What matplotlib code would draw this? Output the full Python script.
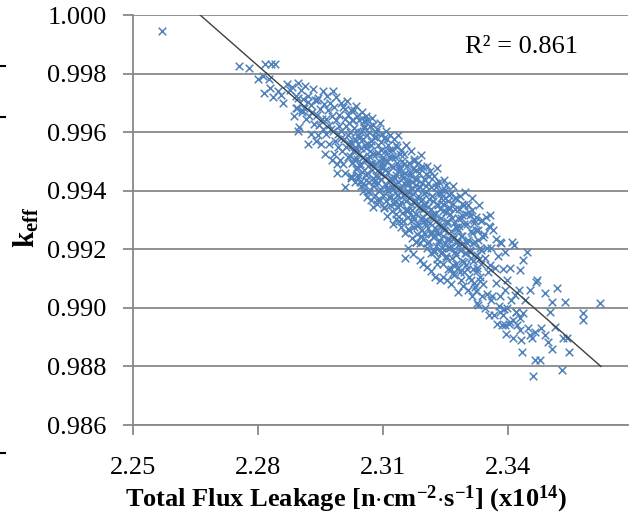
import matplotlib
matplotlib.use('Agg')
import matplotlib.pyplot as plt
from matplotlib.lines import Line2D

plt.rcParams['font.family'] = 'Liberation Serif'
plt.rcParams['mathtext.fontset'] = 'custom'
plt.rcParams['mathtext.rm'] = 'Liberation Serif'
plt.rcParams['mathtext.bf'] = 'Liberation Serif:bold'
plt.rcParams['mathtext.it'] = 'Liberation Serif:italic'

# total flux leakage (x1e14) and k_eff
flux = [
    2.2882, 2.2886, 2.2891, 2.2894, 2.2897, 2.2899,
    2.2902, 2.2905, 2.2908, 2.2911, 2.2913, 2.2916, 2.2919,
    2.2921, 2.2923, 2.2926, 2.2928, 2.2930, 2.2933, 2.2935, 2.2937, 2.2939,
    2.2941, 2.2943, 2.2945, 2.2947, 2.2949, 2.2951, 2.2953, 2.2955, 2.2957, 2.2959,
    2.2960, 2.2962, 2.2964, 2.2966, 2.2968, 2.2970, 2.2971, 2.2973, 2.2975, 2.2977, 2.2978, 2.2979,
    2.2980, 2.2982, 2.2983, 2.2985, 2.2986, 2.2988, 2.2989, 2.2991, 2.2992, 2.2994, 2.2995, 2.2997, 2.2998, 2.2999,
    2.3000, 2.3002, 2.3003, 2.3005, 2.3006, 2.3008, 2.3009, 2.3010, 2.3012, 2.3013, 2.3015, 2.3016, 2.3017, 2.3018, 2.3019,
    2.3020, 2.3021, 2.3022, 2.3024, 2.3025, 2.3026, 2.3028, 2.3029, 2.3030, 2.3032, 2.3033, 2.3034, 2.3035, 2.3036, 2.3037, 2.3038, 2.3039,
    2.3040, 2.3041, 2.3042, 2.3043, 2.3045, 2.3046, 2.3047, 2.3048, 2.3049, 2.3050, 2.3051, 2.3052, 2.3053, 2.3055, 2.3056, 2.3057, 2.3058, 2.3059,
    2.3060, 2.3061, 2.3062, 2.3063, 2.3064, 2.3065, 2.3066, 2.3067, 2.3068, 2.3069, 2.3070, 2.3071, 2.3072, 2.3073, 2.3074, 2.3075, 2.3076, 2.3077, 2.3079,
    2.3080, 2.3081, 2.3082, 2.3083, 2.3084, 2.3085, 2.3086, 2.3087, 2.3088, 2.3089, 2.3090, 2.3091, 2.3092, 2.3093, 2.3094, 2.3095, 2.3096, 2.3097, 2.3098, 2.3099,
    2.3100, 2.3101, 2.3102, 2.3103, 2.3104, 2.3105, 2.3106, 2.3107, 2.3108, 2.3109, 2.3110, 2.3111, 2.3112, 2.3113, 2.3114, 2.3115, 2.3116, 2.3117, 2.3118, 2.3119,
    2.3120, 2.3121, 2.3122, 2.3123, 2.3124, 2.3125, 2.3126, 2.3127, 2.3128, 2.3129, 2.3130, 2.3131, 2.3132, 2.3133, 2.3134, 2.3135, 2.3136, 2.3137, 2.3138, 2.3139, 2.3139,
    2.3140, 2.3141, 2.3142, 2.3143, 2.3144, 2.3145, 2.3146, 2.3147, 2.3148, 2.3149, 2.3150, 2.3151, 2.3152, 2.3153, 2.3154, 2.3155, 2.3156, 2.3157, 2.3158, 2.3159, 2.3159,
    2.3160, 2.3161, 2.3162, 2.3163, 2.3164, 2.3165, 2.3166, 2.3167, 2.3168, 2.3169, 2.3170, 2.3171, 2.3172, 2.3173, 2.3174, 2.3175, 2.3176, 2.3177, 2.3178, 2.3179, 2.3179,
    2.3180, 2.3181, 2.3182, 2.3183, 2.3184, 2.3185, 2.3186, 2.3187, 2.3188, 2.3189, 2.3190, 2.3191, 2.3192, 2.3193, 2.3194, 2.3195, 2.3196, 2.3197, 2.3198, 2.3199, 2.3199,
    2.3200, 2.3201, 2.3202, 2.3203, 2.3204, 2.3205, 2.3206, 2.3207, 2.3208, 2.3209, 2.3210, 2.3211, 2.3212, 2.3213, 2.3214, 2.3215, 2.3216, 2.3217, 2.3218, 2.3219,
    2.3220, 2.3221, 2.3222, 2.3223, 2.3224, 2.3225, 2.3226, 2.3227, 2.3228, 2.3229, 2.3230, 2.3231, 2.3232, 2.3233, 2.3234, 2.3235, 2.3236, 2.3237, 2.3238, 2.3239,
    2.3240, 2.3241, 2.3242, 2.3243, 2.3244, 2.3245, 2.3246, 2.3247, 2.3248, 2.3249, 2.3250, 2.3251, 2.3252, 2.3253, 2.3254, 2.3255, 2.3256, 2.3257, 2.3258,
    2.3260, 2.3261, 2.3262, 2.3263, 2.3264, 2.3265, 2.3267, 2.3268, 2.3269, 2.3270, 2.3271, 2.3272, 2.3273, 2.3274, 2.3275, 2.3276, 2.3277, 2.3279,
    2.3280, 2.3281, 2.3283, 2.3284, 2.3285, 2.3286, 2.3287, 2.3288, 2.3289, 2.3290, 2.3292, 2.3293, 2.3294, 2.3295, 2.3296, 2.3297, 2.3299,
    2.3300, 2.3301, 2.3303, 2.3304, 2.3305, 2.3307, 2.3308, 2.3309, 2.3310, 2.3312, 2.3313, 2.3314, 2.3315, 2.3316, 2.3318, 2.3319,
    2.3320, 2.3322, 2.3323, 2.3325, 2.3326, 2.3328, 2.3329, 2.3330, 2.3332, 2.3333, 2.3335, 2.3336, 2.3337, 2.3339,
    2.3340, 2.3342, 2.3344, 2.3345, 2.3347, 2.3349, 2.3350, 2.3352, 2.3354, 2.3355, 2.3357, 2.3359,
    2.3360, 2.3362, 2.3364, 2.3366, 2.3368, 2.3370, 2.3372, 2.3374, 2.3376, 2.3378,
    2.3381, 2.3383, 2.3386, 2.3388, 2.3391, 2.3393, 2.3396, 2.3398,
    2.3402, 2.3405, 2.3408, 2.3412, 2.3415, 2.3418,
    2.3422, 2.3427, 2.3432, 2.3437,
    # more points in the dense core
    2.30205, 2.30235, 2.30265, 2.30295, 2.30315, 2.30345, 2.30365, 2.30385,
    2.30405, 2.30435, 2.30455, 2.30485, 2.30515, 2.30535, 2.30565, 2.30585,
    2.30605, 2.30625, 2.30655, 2.30675, 2.30705, 2.30725, 2.30755, 2.30785,
    2.30805, 2.30825, 2.30855, 2.30875, 2.30905, 2.30925, 2.30955, 2.30975,
    2.31005, 2.31035, 2.31055, 2.31085, 2.31105, 2.31135, 2.31155, 2.31185,
    2.31205, 2.31225, 2.31255, 2.31285, 2.31305, 2.31335, 2.31355, 2.31385,
    2.31405, 2.31435, 2.31465, 2.31485, 2.31505, 2.31535, 2.31565, 2.31585,
    2.31605, 2.31635, 2.31655, 2.31685, 2.31705, 2.31735, 2.31755, 2.31785,
    2.31805, 2.31825, 2.31855, 2.31885, 2.31905, 2.31925, 2.31955, 2.31985,
    2.32005, 2.32035, 2.32055, 2.32085, 2.32115, 2.32135, 2.32165, 2.32185,
    2.32205, 2.32235, 2.32265, 2.32285, 2.32305, 2.32335, 2.32355, 2.32385,
    2.32405, 2.32435, 2.32455, 2.32485, 2.32505, 2.32535, 2.32555, 2.32585,
    2.32605, 2.32635, 2.32655, 2.32685, 2.32705, 2.32735, 2.32755, 2.32785,
    2.32805, 2.32825, 2.32855, 2.32885, 2.32905, 2.32935, 2.32955, 2.32985,
    2.33005, 2.33025, 2.33055, 2.33085, 2.33115, 2.33135, 2.33165, 2.33185,
    2.33205, 2.33235, 2.33265, 2.33285, 2.33305, 2.33335, 2.33355, 2.33385,
    # scattered points away from the core
    2.2570, 2.2754, 2.2778, 2.2817, 2.2831, 2.2841, 2.2800, 2.2812, 2.2826, 2.2829, 2.2814, 2.2836,
    2.2848, 2.2855, 2.2860, 2.2870, 2.2877, 2.2896, 2.2891, 2.2906, 2.2896, 2.2920, 2.2942,
    2.2990, 2.3026, 2.3009, 2.3045, 2.3009, 2.3054, 2.3062, 2.3076,
    2.3314, 2.3357, 2.3357, 2.3381, 2.3410, 2.3436, 2.3446, 2.3470, 2.3429,
    2.3280, 2.3254, 2.3153, 2.3189, 2.3206, 2.3225, 2.3237, 2.3326, 2.3381, 2.3393, 2.3412, 2.3429, 2.3453,
    2.3467, 2.3518, 2.3489, 2.3506, 2.3537, 2.3621, 2.3580, 2.3580, 2.3501, 2.3513,
    2.3532, 2.3542, 2.3496, 2.3506, 2.3546, 2.3434, 2.3465, 2.3477, 2.3530, 2.3460,
    2.3388, 2.3405, 2.3419, 2.3398, 2.3448, 2.3465, 2.3479, 2.3458, 2.3489, 2.3429, 2.3441, 2.3417, 2.3453, 2.3393,
    2.3160, 2.3172, 2.3195, 2.3215, 2.3245, 2.3262, 2.3180, 2.3230, 2.3268,
]
keff = [
    0.99754, 0.99654, 0.99724, 0.99684, 0.99769, 0.99619,
    0.99744, 0.99669, 0.99714, 0.99684, 0.99759, 0.99644, 0.99704,
    0.99724, 0.99654, 0.99694, 0.99594, 0.99669, 0.99749, 0.99629, 0.99709, 0.99569,
    0.99660, 0.99590, 0.99715, 0.99625, 0.99680, 0.99560, 0.99645, 0.99740, 0.99610, 0.99695,
    0.99525, 0.99645, 0.99595, 0.99725, 0.99675, 0.99560, 0.99625, 0.99700, 0.99610, 0.99505, 0.99655, 0.99740,
    0.99605, 0.99525, 0.99685, 0.99570, 0.99640, 0.99720, 0.99490, 0.99595, 0.99550, 0.99660, 0.99620, 0.99505, 0.99700, 0.99580,
    0.99605, 0.99535, 0.99685, 0.99490, 0.99575, 0.99645, 0.99460, 0.99620, 0.99550, 0.99705, 0.99590, 0.99515, 0.99660, 0.99560, 0.99630,
    0.99520, 0.99600, 0.99450, 0.99675, 0.99560, 0.99495, 0.99640, 0.99535, 0.99615, 0.99430, 0.99575, 0.99690, 0.99475, 0.99545, 0.99655, 0.99510, 0.99590,
    0.99560, 0.99445, 0.99525, 0.99640, 0.99490, 0.99600, 0.99415, 0.99545, 0.99670, 0.99465, 0.99575, 0.99515, 0.99400, 0.99620, 0.99505, 0.99555, 0.99435, 0.99655,
    0.99455, 0.99560, 0.99640, 0.99400, 0.99510, 0.99485, 0.99600, 0.99430, 0.99535, 0.99620, 0.99370, 0.99495, 0.99570, 0.99470, 0.99650, 0.99415, 0.99525, 0.99445, 0.99585,
    0.99490, 0.99385, 0.99585, 0.99450, 0.99525, 0.99355, 0.99610, 0.99470, 0.99425, 0.99555, 0.99400, 0.99500, 0.99630, 0.99370, 0.99480, 0.99440, 0.99540, 0.99595, 0.99460, 0.99515,
    0.99385, 0.99480, 0.99580, 0.99340, 0.99450, 0.99535, 0.99420, 0.99605, 0.99365, 0.99500, 0.99315, 0.99465, 0.99555, 0.99400, 0.99515, 0.99435, 0.99350, 0.99590, 0.99485, 0.99380,
    0.99445, 0.99330, 0.99540, 0.99405, 0.99480, 0.99285, 0.99575, 0.99420, 0.99365, 0.99515, 0.99305, 0.99455, 0.99555, 0.99385, 0.99495, 0.99345, 0.99430, 0.99590, 0.99410, 0.99470, 0.99295,
    0.99350, 0.99475, 0.99275, 0.99540, 0.99410, 0.99325, 0.99500, 0.99385, 0.99445, 0.99295, 0.99525, 0.99425, 0.99255, 0.99460, 0.99365, 0.99555, 0.99335, 0.99400, 0.99485, 0.99310, 0.99435,
    0.99425, 0.99335, 0.99495, 0.99265, 0.99380, 0.99455, 0.99295, 0.99535, 0.99355, 0.99410, 0.99240, 0.99475, 0.99390, 0.99315, 0.99510, 0.99275, 0.99440, 0.99365, 0.99225, 0.99420, 0.99470,
    0.99321, 0.99441, 0.99251, 0.99381, 0.99496, 0.99286, 0.99346, 0.99461, 0.99221, 0.99411, 0.99306, 0.99521, 0.99366, 0.99266, 0.99426, 0.99336, 0.99481, 0.99236, 0.99391, 0.99296, 0.99356,
    0.99351, 0.99251, 0.99456, 0.99301, 0.99396, 0.99206, 0.99486, 0.99326, 0.99271, 0.99426, 0.99226, 0.99371, 0.99466, 0.99291, 0.99336, 0.99186, 0.99411, 0.99256, 0.99381, 0.99311,
    0.99241, 0.99366, 0.99191, 0.99451, 0.99321, 0.99271, 0.99411, 0.99211, 0.99296, 0.99476, 0.99166, 0.99351, 0.99251, 0.99391, 0.99431, 0.99226, 0.99336, 0.99281, 0.99376, 0.99186,
    0.99306, 0.99191, 0.99401, 0.99246, 0.99356, 0.99151, 0.99436, 0.99276, 0.99221, 0.99376, 0.99176, 0.99326, 0.99421, 0.99236, 0.99291, 0.99131, 0.99341, 0.99206, 0.99386,
    0.99206, 0.99321, 0.99131, 0.99391, 0.99261, 0.99171, 0.99356, 0.99236, 0.99416, 0.99111, 0.99291, 0.99191, 0.99336, 0.99376, 0.99151, 0.99276, 0.99226, 0.99306,
    0.99266, 0.99136, 0.99336, 0.99196, 0.99381, 0.99096, 0.99246, 0.99306, 0.99161, 0.99356, 0.99076, 0.99221, 0.99286, 0.99121, 0.99396, 0.99186, 0.99321,
    0.99146, 0.99286, 0.99061, 0.99231, 0.99351, 0.99106, 0.99196, 0.99316, 0.99171, 0.99261, 0.99041, 0.99376, 0.99131, 0.99221, 0.99301, 0.99086,
    0.99226, 0.99056, 0.99311, 0.99126, 0.99181, 0.99266, 0.99011, 0.99351, 0.99091, 0.99206, 0.99151, 0.99296, 0.99041, 0.99241,
    0.99081, 0.99251, 0.99001, 0.99171, 0.99311, 0.99046, 0.99206, 0.99121, 0.99281, 0.98976, 0.99146, 0.99026,
    0.99206, 0.99041, 0.99266, 0.98976, 0.99136, 0.99086, 0.99236, 0.98946, 0.99176, 0.99006,
    0.99041, 0.99221, 0.98941, 0.99131, 0.98996, 0.99191, 0.98911, 0.99096,
    0.98946, 0.99136, 0.99026, 0.98896, 0.99216, 0.98986,
    0.98941, 0.99061, 0.98891, 0.98981,
    # more points in the dense core
    0.99570, 0.99445, 0.99640, 0.99510, 0.99675, 0.99540, 0.99480, 0.99605,
    0.99455, 0.99580, 0.99485, 0.99650, 0.99515, 0.99615, 0.99420, 0.99545,
    0.99590, 0.99460, 0.99520, 0.99395, 0.99555, 0.99490, 0.99625, 0.99430,
    0.99435, 0.99600, 0.99370, 0.99530, 0.99465, 0.99405, 0.99565, 0.99495,
    0.99505, 0.99345, 0.99470, 0.99575, 0.99410, 0.99540, 0.99380, 0.99440,
    0.99415, 0.99515, 0.99355, 0.99445, 0.99320, 0.99550, 0.99385, 0.99480,
    0.99525, 0.99360, 0.99455, 0.99295, 0.99490, 0.99390, 0.99330, 0.99420,
    0.99270, 0.99395, 0.99465, 0.99335, 0.99430, 0.99305, 0.99500, 0.99365,
    0.99406, 0.99281, 0.99341, 0.99476, 0.99246, 0.99371, 0.99311, 0.99441,
    0.99286, 0.99416, 0.99221, 0.99346, 0.99451, 0.99256, 0.99381, 0.99316,
    0.99321, 0.99196, 0.99426, 0.99261, 0.99356, 0.99291, 0.99231, 0.99391,
    0.99206, 0.99331, 0.99266, 0.99401, 0.99171, 0.99296, 0.99366, 0.99236,
    0.99341, 0.99211, 0.99306, 0.99146, 0.99241, 0.99376, 0.99181, 0.99271,
    0.99216, 0.99281, 0.99121, 0.99246, 0.99316, 0.99156, 0.99351, 0.99186,
    0.99221, 0.99131, 0.99326, 0.99191, 0.99096, 0.99256, 0.99161, 0.99291,
    0.99071, 0.99266, 0.99136, 0.99231, 0.99166, 0.99106, 0.99196, 0.99301,
    # scattered points away from the core
    0.99945, 0.99826, 0.99819, 0.99833, 0.99833, 0.99833, 0.99782, 0.99792, 0.99782, 0.99751, 0.99734, 0.99720,
    0.99741, 0.99727, 0.99700, 0.99764, 0.99744, 0.99717, 0.99683, 0.99676, 0.99604, 0.99560, 0.99710,
    0.99461, 0.99447, 0.99413, 0.99430, 0.99679, 0.99638, 0.99379, 0.99345,
    0.99334, 0.99317, 0.99276, 0.99225, 0.99225, 0.99164, 0.99191, 0.99096, 0.99130,
    0.99055, 0.99096, 0.99171, 0.99164, 0.99140, 0.99106, 0.99096, 0.99017, 0.98986, 0.98942, 0.98959, 0.98925, 0.98908,
    0.99089, 0.99068, 0.99051, 0.99020, 0.99020, 0.99017, 0.98983, 0.98959, 0.98986, 0.98935,
    0.98898, 0.98898, 0.98884, 0.98860, 0.98850, 0.98850, 0.98822, 0.98822, 0.98788, 0.98768,
    0.98976, 0.98952, 0.98986, 0.99000, 0.98932, 0.98918, 0.98932, 0.98898, 0.98908, 0.98966, 0.99027, 0.99044, 0.99061, 0.99061,
    0.99205, 0.99185, 0.99150, 0.99125, 0.99105, 0.99080, 0.99225, 0.99150, 0.99120,
]

# linear trend line end points
trend_x = [2.2661, 2.3623]
trend_y = [1.000, 0.988]

x_ticks = [2.25, 2.28, 2.31, 2.34]
y_ticks = [0.986, 0.988, 0.990, 0.992, 0.994, 0.996, 0.998, 1.000]

fig = plt.figure(figsize=(6.34, 5.18), dpi=100)
ax = fig.add_axes([133 / 634, 93 / 518, 495 / 634, 410 / 518])

ax.scatter(flux, keff, marker='x', s=30, c='#4F81BD', linewidths=1.1, zorder=3)
ax.plot(trend_x, trend_y, color='#404040', lw=1.0, zorder=4)

ax.set_xlim(2.25, 2.3688)
ax.set_ylim(0.986, 1.000)
ax.set_xticks(x_ticks)
ax.set_xticklabels([f'{v:.2f}' for v in x_ticks])
ax.set_yticks(y_ticks)
ax.set_yticklabels([f'{v:.3f}' for v in y_ticks])

ax.yaxis.grid(True, color='#888888', lw=1.3, zorder=0)
ax.set_axisbelow(True)
for s in ['top', 'right']:
    ax.spines[s].set_visible(False)
for s in ['left', 'bottom']:
    ax.spines[s].set_color('#888888')
    ax.spines[s].set_linewidth(1.3)

ax.tick_params(axis='both', direction='out', length=7, width=1.3, color='#888888',
               labelsize=19, labelcolor='black')
ax.tick_params(axis='y', pad=12)
ax.tick_params(axis='x', pad=16)

ax.text(0.671, 0.922, 'R² = 0.861', transform=ax.transAxes, fontsize=19,
        va='center', ha='left')

fig.text(346 / 634, 1 - 499 / 518,
         r'Total Flux Leakage [n$\cdot$cm$^{\mathbf{-2}}$$\cdot$s$^{\mathbf{-1}}$] (x10$^{\mathbf{14}}$)',
         fontsize=19, fontweight='bold', ha='center', va='center')
fig.text(26 / 634, 1 - 227 / 518, r'$\mathbf{k}_{\mathbf{eff}}$', fontsize=21,
         rotation=90, ha='center', va='center')

# small black marks along the left edge of the original image
for py in [66, 117, 453]:
    fig.add_artist(Line2D([0, 5 / 634], [1 - py / 518, 1 - py / 518], color='black', lw=1.5))

fig.savefig('out.png', dpi=100)
